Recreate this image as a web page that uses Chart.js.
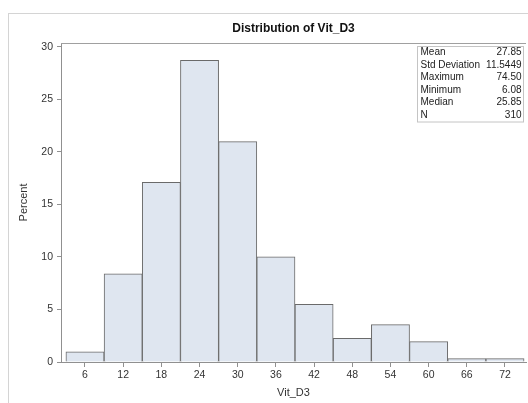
<!DOCTYPE html>
<html>
<head>
<meta charset="utf-8">
<script src="https://cdn.jsdelivr.net/npm/chart.js@4/dist/chart.umd.min.js"></script>
<style>
  html,body{margin:0;padding:0;background:#fff;}
  #wrap{position:relative;width:528px;height:403px;overflow:hidden;}
  #frame{position:absolute;left:8px;top:13px;width:600px;height:500px;border-left:1px solid #d4d4d4;border-top:1px solid #d4d4d4;}
  #chart{position:absolute;left:0;top:0;}
</style>
</head>
<body>
<div id="wrap">
  <div id="frame"></div>
  <canvas id="chart" width="528" height="403"></canvas>
</div>
<script>
// histogram bins (midpoints) and percent per bin
var binMids=[6,12,18,24,30,36,42,48,54,60,66,72];
var percents=[0.97,8.39,17.10,28.71,20.97,10.00,5.48,2.26,3.55,1.94,0.32,0.32];
var xTicks=[6,12,18,24,30,36,42,48,54,60,66,72];
var yTicks=[0,5,10,15,20,25,30];
// inset stats
var statLabels=['Mean','Std Deviation','Maximum','Minimum','Median','N'];
var statValues=['27.85','11.5449','74.50','6.08','25.85','310'];

var FONT='"Liberation Sans", Arial, sans-serif';

var statsBox={
  id:'statsBox',
  afterDraw:function(chart){
    var ctx=chart.ctx;
    var a=chart.chartArea;
    ctx.save();
    // top frame line of the plot area
    ctx.strokeStyle='#a0a0a0';
    ctx.lineWidth=1;
    ctx.beginPath();
    ctx.moveTo(a.left,a.top+0.5);
    ctx.lineTo(a.right,a.top+0.5);
    ctx.stroke();
    // stats inset
    var x0=417.5,y0=46.5,w=106,h=75.5;
    ctx.fillStyle='#fff';
    ctx.fillRect(x0,y0,w,h);
    ctx.strokeStyle='#c4c4c4';
    ctx.strokeRect(x0,y0,w,h);
    ctx.font='10px '+FONT;
    ctx.fillStyle='#222';
    ctx.textBaseline='middle';
    for(var i=0;i<statLabels.length;i++){
      var y=52.5+i*12.5;
      ctx.textAlign='left';
      ctx.fillText(statLabels[i],420.5,y);
      ctx.textAlign='right';
      ctx.fillText(statValues[i],521.5,y);
    }
    ctx.restore();
  }
};

var ctx=document.getElementById('chart').getContext('2d');
var chart=new Chart(ctx,{
  type:'bar',
  data:{
    datasets:[{
      label:'Percent',
      data:binMids.map(function(v,i){
        return {x:v,y:percents[i]};
      }),
      backgroundColor:'#dfe6f0',
      borderColor:'#6a6a6a',
      borderWidth:1,
      barPercentage:1,
      categoryPercentage:1
    }]
  },
  options:{
    responsive:false,
    animation:false,
    devicePixelRatio:1,
    layout:{padding:{left:0,right:2,top:0,bottom:0}},
    plugins:{
      legend:{display:false},
      tooltip:{enabled:false},
      title:{
        display:true,
        fullSize:false,
        text:'Distribution of Vit_D3',
        color:'#111',
        font:{family:FONT,size:12,weight:'bold'},
        padding:{top:21,bottom:7.6}
      }
    },
    scales:{
      x:{
        type:'linear',
        offset:false,
        min:2.23,
        max:75.3,
        afterBuildTicks:function(s){
          s.ticks=xTicks.map(function(v){return {value:v};});
        },
        afterFit:function(s){s.height=41;},
        grid:{offset:false,drawOnChartArea:false,drawTicks:true,tickLength:5,color:'#909090'},
        border:{display:true,color:'#909090'},
        ticks:{color:'#333',font:{family:FONT,size:10.5},padding:2,maxRotation:0,autoSkip:false},
        title:{display:true,text:'Vit_D3',color:'#333',font:{family:FONT,size:11},padding:{top:0,bottom:3.4}}
      },
      y:{
        min:0,
        max:30.35,
        afterBuildTicks:function(s){
          s.ticks=yTicks.map(function(v){return {value:v};});
        },
        afterFit:function(s){s.width=61;},
        grid:{drawOnChartArea:false,drawTicks:true,tickLength:4,color:'#909090'},
        border:{display:true,color:'#909090'},
        ticks:{color:'#333',font:{family:FONT,size:10.5},padding:4},
        title:{display:true,text:'Percent',color:'#333',font:{family:FONT,size:11},padding:{top:17.4,bottom:0}}
      }
    }
  },
  plugins:[statsBox]
});
</script>
</body>
</html>
